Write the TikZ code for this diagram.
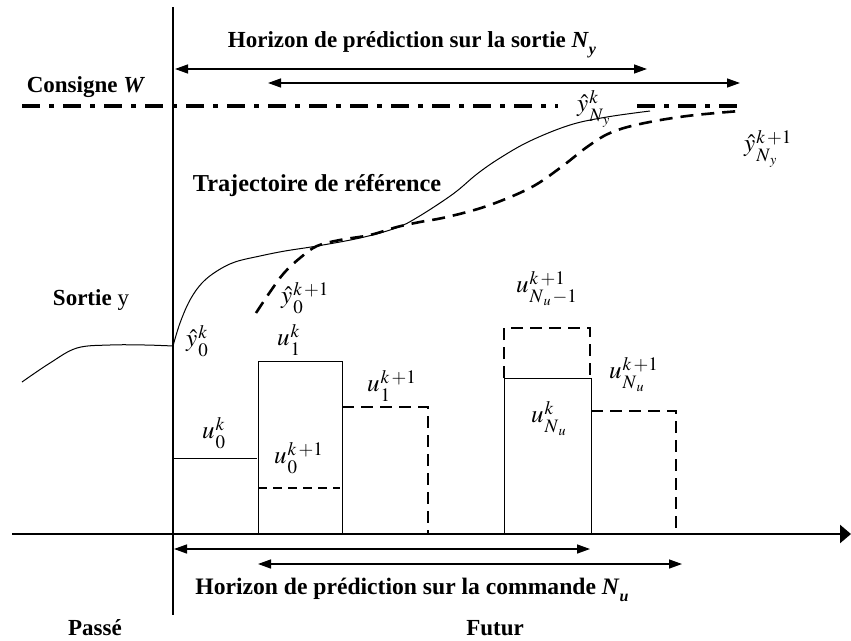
\documentclass[tikz,border=0pt]{standalone}
\usepackage{mathptmx}
\usepackage{fontspec}
\setmainfont{Liberation Serif}
\usetikzlibrary{arrows.meta}
\newcommand{\subN}[1]{\textit{N}\raisebox{-0.3em}{\fontsize{16}{16}\selectfont\itshape #1}}
\newcommand{\Nsb}[1]{N\raisebox{-3pt}{$\scriptstyle #1$}}
\newcommand{\ms}[3]{$#1$\kern1pt{\fontsize{19}{19}\selectfont\sbox0{$#3$}\sbox2{$#2$}\ooalign{\raisebox{8pt}{\usebox0}\cr\raisebox{-10pt}{\usebox2}\cr}}}
\begin{document}
\begin{tikzpicture}[x=1pt,y=-1pt,
  lbl/.style={font=\fontsize{23}{27}\selectfont\bfseries, inner sep=0pt},
  mth/.style={font=\fontsize{25}{30}\selectfont, inner sep=0pt, anchor=base west},
  hz/.style={line width=1.4pt, {Triangle[length=13pt,width=9pt]}-{Triangle[length=13pt,width=9pt]}},
  ctl/.style={line width=1pt},
  dsh/.style={line width=2.6pt, dash pattern=on 12pt off 7pt},
  dshthin/.style={line width=1.6pt, dash pattern=on 9pt off 6pt},
  axis/.style={line width=2.5pt},
  consigne/.style={line width=4pt, dash pattern=on 18pt off 9pt on 5pt off 9pt},
  ]
\useasboundingbox (0,0) rectangle (851,640);
% axes
\coordinate (vtop) at (173,7); \coordinate (vbot) at (173,615);
\draw[axis] (vtop) -- (vbot);
\coordinate (hl) at (12,534); \coordinate (hr) at (851,534);
\draw[axis, -{Triangle[length=11pt,width=18pt]}] (hl) -- (hr);
% consigne
\coordinate (c1) at (22,106); \coordinate (c2) at (558,106);
\coordinate (c3) at (637,106); \coordinate (c4) at (740,106);
\draw[consigne] (c1) -- (c2);
\draw[consigne] (c3) -- (c4);
% horizon arrows (output)
\coordinate (ya1) at (175,69); \coordinate (yb1) at (647,69);
\coordinate (ya2) at (268,83); \coordinate (yb2) at (740,83);
\draw[hz] (ya1) -- (yb1);
\draw[hz] (ya2) -- (yb2);
% horizon arrows (command)
\coordinate (ua1) at (174,549); \coordinate (ub1) at (590,549);
\coordinate (ua2) at (258,564); \coordinate (ub2) at (682,564);
\draw[hz] (ua1) -- (ub1);
\draw[hz] (ua2) -- (ub2);
% past output
\draw[line width=1pt] plot[smooth, tension=0.6] coordinates {(22,382) (50,363) (77,348) (110,345) (145,345) (173,346)};
% reference trajectory (solid)
\draw[line width=1pt] plot[smooth, tension=0.6] coordinates {(173,346) (180,323) (190,300) (202,283) (217,271) (235,262) (260,256) (285,251) (317,246) (360,238) (396,228) (418,217) (453,194) (477,174) (500,158) (530,141) (570,125) (607,117) (650,111)};
% new prediction (dashed)
\draw[dsh, dash pattern=on 13pt off 8pt] plot[smooth, tension=0.6] coordinates {(256,313) (270,292) (284,273) (300,258) (317,246) (340,240) (370,235) (397,227) (420,222) (447,217) (487,206) (530,188) (560,168) (587,147) (610,133) (640,124) (687,116) (740,111)};
% control moves
\coordinate (u0a) at (173,458); \coordinate (u0b) at (257,458);
\draw[ctl] (u0a) -- (u0b);
\coordinate (b1a) at (258,534); \coordinate (b1b) at (258,361);
\coordinate (b1c) at (342,361); \coordinate (b1d) at (342,534);
\draw[ctl] (b1a) -- (b1b) -- (b1c) -- (b1d);
\coordinate (n0a) at (258,488); \coordinate (n0b) at (340,488);
\draw[dshthin] (n0a) -- (n0b);
\coordinate (n1a) at (342,407); \coordinate (n1b) at (428,407); \coordinate (n1c) at (428,534);
\draw[dsh] (n1a) -- (n1b) -- (n1c);
\coordinate (bNa) at (504,534); \coordinate (bNb) at (504,378);
\coordinate (bNc) at (591,378); \coordinate (bNd) at (591,534);
\draw[ctl] (bNa) -- (bNb) -- (bNc) -- (bNd);
\coordinate (nMa) at (504,378); \coordinate (nMb) at (504,328);
\coordinate (nMc) at (590,328); \coordinate (nMd) at (590,378);
\draw[dsh] (nMa) -- (nMb) -- (nMc) -- (nMd);
\coordinate (nNa) at (591,411); \coordinate (nNb) at (676,411); \coordinate (nNc) at (676,534);
\draw[dsh] (nNa) -- (nNb) -- (nNc);
% text labels
\node[lbl] (thy) at (412,45) {Horizon de prédiction sur la sortie \subN{y}};
\node[lbl] (tcons) at (86,87) {Consigne \textit{W}};
\node[lbl, font=\fontsize{24.3}{28}\selectfont\bfseries] (ttraj) at (317,186) {Trajectoire de référence};
\node[lbl] (tsort) at (91,300) {Sortie {\mdseries y}};
\node[lbl, font=\fontsize{23.6}{28}\selectfont\bfseries] (thu) at (412,590) {Horizon de prédiction sur la commande \subN{u}};
\node[lbl, anchor=base] (tpas) at (95,635) {Passé};
\node[lbl, anchor=base] (tfut) at (495,635) {Futur};
% math labels
\node[mth] (y0k) at (186,346) {\ms{\hat{y}}{0}{k}};
\node[mth] (y0k1) at (281,303) {\ms{\hat{y}}{0}{k\,{+}1}};
\node[mth] (u1k) at (277,345) {\ms{u}{1}{k}};
\node[mth] (u1k1) at (367,391) {\ms{u}{1}{k\,{+}1}};
\node[mth] (u0k) at (202,438) {\ms{u}{0}{k}};
\node[mth] (u0k1) at (274,463) {\ms{u}{0}{k\,{+}1}};
\node[mth] (uNm) at (516,292) {\ms{u}{\Nsb{u}\,{-}1}{k\,{+}1}};
\node[mth] (uNk1) at (609,378) {\ms{u}{\Nsb{u}}{k\,{+}1}};
\node[mth] (uNk) at (531,422) {\ms{u}{\Nsb{u}}{k}};
\node[mth] (yNk) at (577,111) {\ms{\hat{y}}{\Nsb{y}}{k}};
\node[mth] (yNk1) at (744,151) {\ms{\hat{y}}{\Nsb{y}}{k\,{+}1}};
\end{tikzpicture}
\end{document}
